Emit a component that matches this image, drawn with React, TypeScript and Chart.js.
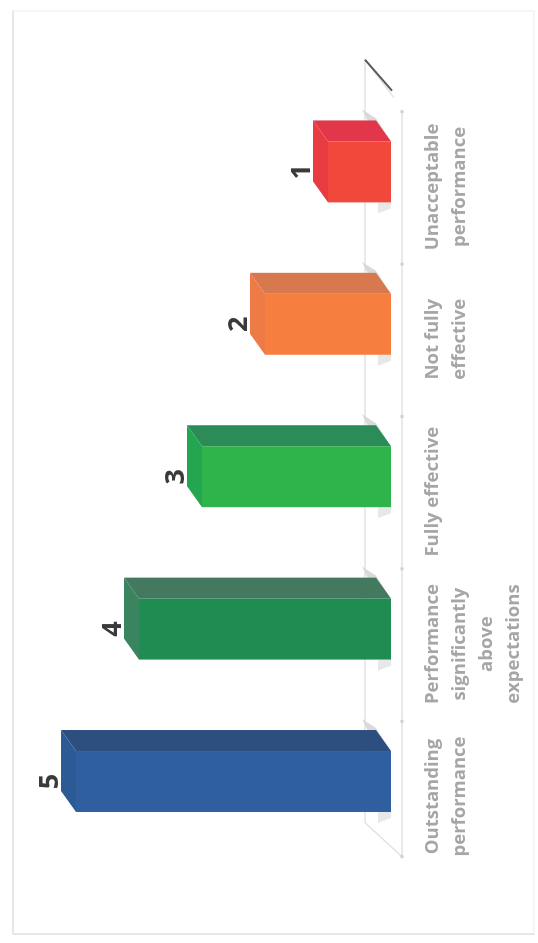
import React, { useEffect, useRef } from "react";
import { Chart, registerables } from "chart.js";

Chart.register(...registerables);

const categories = [
  ["Outstanding", "performance"],
  ["Performance", "significantly", "above", "expectations"],
  ["Fully effective"],
  ["Not fully", "effective"],
  ["Unacceptable", "performance"],
];
const ratings = [5, 4, 3, 2, 1];
const frontColors = ["#2f5f9f", "#1f8c52", "#2fb44c", "#f67f40", "#f0483b"];
const topColors = ["#2b5a95", "#3a8560", "#22a650", "#ee7a45", "#e93c42"];
const sideColors = ["#2d4f80", "#42795f", "#2b8c58", "#d8784f", "#e2374a"];

const DU = 21;
const DV = 15;

function poly(ctx: CanvasRenderingContext2D, pts: number[][], fill: string) {
  ctx.beginPath();
  pts.forEach(([x, y], i) => (i ? ctx.lineTo(x, y) : ctx.moveTo(x, y)));
  ctx.closePath();
  ctx.fillStyle = fill;
  ctx.fill();
}

const scene = {
  id: "scene",
  beforeDatasetsDraw(chart: any) {
    const { ctx, scales, width, height } = chart;
    const x = scales.x;
    const base = scales.y.getPixelForValue(0);
    const front = base + 11;
    const back = base - 26;
    const edge = (i: number) => x.getPixelForValue(i - 0.5);
    ctx.save();
    // page frame: the scan shows two sides clearly and the other two barely
    ctx.lineWidth = 1.5;
    ctx.strokeStyle = "#f3f3f3";
    ctx.strokeRect(9, 13, width - 20, height - 17);
    ctx.strokeStyle = "#e3e3e3";
    ctx.beginPath();
    ctx.moveTo(9, 13);
    ctx.lineTo(width - 11, 13);
    ctx.moveTo(9, 13);
    ctx.lineTo(9, height - 4);
    ctx.stroke();
    // floor
    ctx.strokeStyle = "#e2e2e2";
    ctx.lineWidth = 1.5;
    const fl = edge(0) + 1;
    const fr = edge(5) - 16;
    ctx.beginPath();
    ctx.moveTo(fl, front);
    ctx.lineTo(fr, front);
    ctx.moveTo(fl + 34, back);
    ctx.lineTo(fr + 52, back);
    ctx.moveTo(fl, front);
    ctx.lineTo(fl + 34, back);
    ctx.moveTo(fr + 52, back);
    ctx.lineTo(fr + 14, front - 8);
    ctx.stroke();
    ctx.strokeStyle = "#5a5a5a";
    ctx.lineWidth = 2;
    ctx.beginPath();
    ctx.moveTo(fr + 52, back);
    ctx.lineTo(fr + 21, front - 10);
    ctx.stroke();
    // axis tick dots
    ctx.fillStyle = "#cfcfcf";
    for (let i = 0; i <= 5; i++) {
      const p = i === 0 ? fl : edge(i) - 16;
      ctx.fillRect(p - 1.5, front - 1.5, 3, 3);
    }
    // bar shadows
    const meta = chart.getDatasetMeta(0);
    meta.data.forEach((bar: any) => {
      const r = bar.x + bar.width / 2;
      const l = bar.x - bar.width / 2;
      poly(ctx, [[r, base], [r + DU + 2, base - DV], [r + DU + 11, base - 29], [r + 14, base - 20]], "#d9d9d9");
      poly(ctx, [[l - 11, base - 13], [l, base - 13], [l, base], [l - 6, base]], "#e8e8e8");
    });
    // 3D faces
    meta.data.forEach((bar: any, i: number) => {
      const r = bar.x + bar.width / 2;
      const l = bar.x - bar.width / 2;
      poly(ctx, [[r, bar.y], [r + DU, bar.y - DV], [r + DU, base - DV], [r, base]], sideColors[i]);
      poly(ctx, [[l, bar.y], [l + DU, bar.y - DV], [r + DU, bar.y - DV], [r, bar.y]], topColors[i]);
    });
    ctx.restore();
  },
  afterDatasetsDraw(chart: any) {
    const { ctx } = chart;
    ctx.save();
    ctx.font = "bold 27px 'Open Sans'";
    ctx.fillStyle = "#3a3a3a";
    ctx.textAlign = "center";
    ctx.textBaseline = "alphabetic";
    chart.getDatasetMeta(0).data.forEach((bar: any, i: number) => {
      ctx.fillText(String(ratings[i]), bar.x, bar.y - DV - 3);
    });
    ctx.restore();
  },
};

export default function App() {
  const ref = useRef<HTMLCanvasElement>(null);
  useEffect(() => {
    const chart = new Chart(ref.current!, {
      type: "bar",
      data: {
        labels: categories as any,
        datasets: [
          {
            data: ratings,
            backgroundColor: frontColors,
            barPercentage: 0.4,
            categoryPercentage: 1,
          },
        ],
      },
      options: {
        responsive: false,
        animation: false,
        layout: { padding: { left: 85.3, right: 95.7, top: 76, bottom: 0 } },
        plugins: { legend: { display: false }, tooltip: { enabled: false } },
        scales: {
          x: {
            grid: { display: false, drawTicks: false },
            border: { display: false },
            afterFit: (s: any) => {
              s.height = 147;
            },
            ticks: {
              autoSkip: false,
              maxRotation: 0,
              minRotation: 0,
              padding: 28,
              labelOffset: -15,
              color: "#a6a6a6",
              font: { family: "'Open Sans'", size: 18.5, weight: "700", lineHeight: 1.46 },
            },
          },
          y: { display: false, min: 0, max: 5 },
        },
      },
      plugins: [scene],
    } as any);
    return () => chart.destroy();
  }, []);
  return (
    <div style={{ position: "fixed", left: 0, top: 0, width: 538, height: 943, overflow: "hidden", background: "#fff" }}>
      <div
        style={{
          position: "absolute",
          left: 0,
          top: 943,
          width: 943,
          height: 538,
          transform: "rotate(-90deg)",
          transformOrigin: "0 0",
          filter: "blur(0.7px)",
        }}
      >
        <canvas ref={ref} width={943} height={538} style={{ display: "block" }} />
      </div>
    </div>
  );
}
